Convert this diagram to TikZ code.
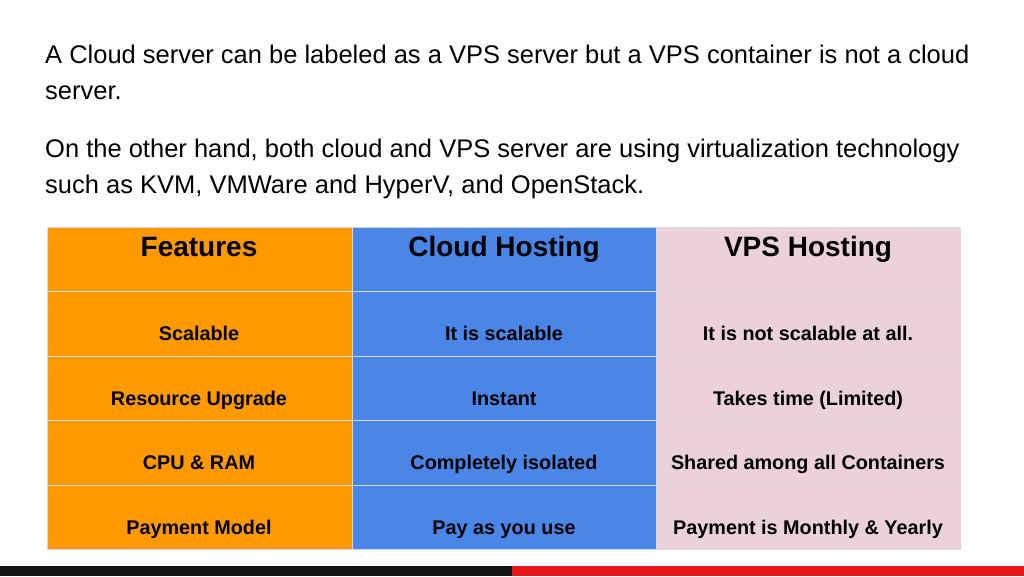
\documentclass[tikz,border=0pt]{standalone}
\usepackage{fontspec}
\setmainfont{Liberation Sans}
\definecolor{feat}{HTML}{FF9900}
\definecolor{cloud}{HTML}{4A86E8}
\definecolor{vps}{HTML}{EAD1DC}
\definecolor{barred}{HTML}{E8151B}
\tikzset{
  line/.style={anchor=base west,inner sep=0pt,font=\fontsize{25.5}{30}\selectfont},
  head/.style={anchor=base,inner sep=0pt,font=\bfseries\fontsize{28}{32}\selectfont},
  cell/.style={anchor=base,inner sep=0pt,font=\bfseries\fontsize{19.8}{23}\selectfont}
}
\begin{document}
\begin{tikzpicture}[x=1pt,y=-1pt]
  \useasboundingbox (0,0) rectangle (1024,576);
  \fill[white] (0,0) rectangle (1024,576);
  % bottom bar
  \fill[black!92] (0,566) rectangle (512,576);
  \fill[barred] (512,566) rectangle (1024,576);

  \node[line] (l1) at (45,63) {A Cloud server can be labeled as a VPS server but a VPS container is not a cloud};
  \node[line] (l2) at (45,99) {server.};
  \node[line] (l3) at (45,157) {On the other hand, both cloud and VPS server are using virtualization technology};
  \node[line] (l4) at (45,193) {such as KVM, VMWare and HyperV, and OpenStack.};

  % table
  \fill[feat] (47,227) rectangle (352,549);
  \fill[cloud] (352,227) rectangle (656,549);
  \fill[vps] (656,227) rectangle (960,549);
  \draw[black!15] (47,227) rectangle (960,549);
  \foreach \y in {291,356,420,485}
    \draw[black!15] (47,\y) -- (960,\y);
  \foreach \x in {352,656}
    \draw[black!15] (\x,227) -- (\x,549);

  \node[head] (h1) at (199,256) {Features};
  \node[head] (h2) at (504,256) {Cloud Hosting};
  \node[head] (h3) at (808,256) {VPS Hosting};

  \node[cell] (a1) at (199,340) {Scalable};
  \node[cell] (b1) at (504,340) {It is scalable};
  \node[cell] (c1) at (808,340) {It is not scalable at all.};
  \node[cell] (a2) at (199,405) {Resource Upgrade};
  \node[cell] (b2) at (504,405) {Instant};
  \node[cell] (c2) at (808,405) {Takes time (Limited)};
  \node[cell] (a3) at (199,469) {CPU \& RAM};
  \node[cell] (b3) at (504,469) {Completely isolated};
  \node[cell] (c3) at (808,469) {Shared among all Containers};
  \node[cell] (a4) at (199,534) {Payment Model};
  \node[cell] (b4) at (504,534) {Pay as you use};
  \node[cell] (c4) at (808,534) {Payment is Monthly \& Yearly};
\end{tikzpicture}
\end{document}
